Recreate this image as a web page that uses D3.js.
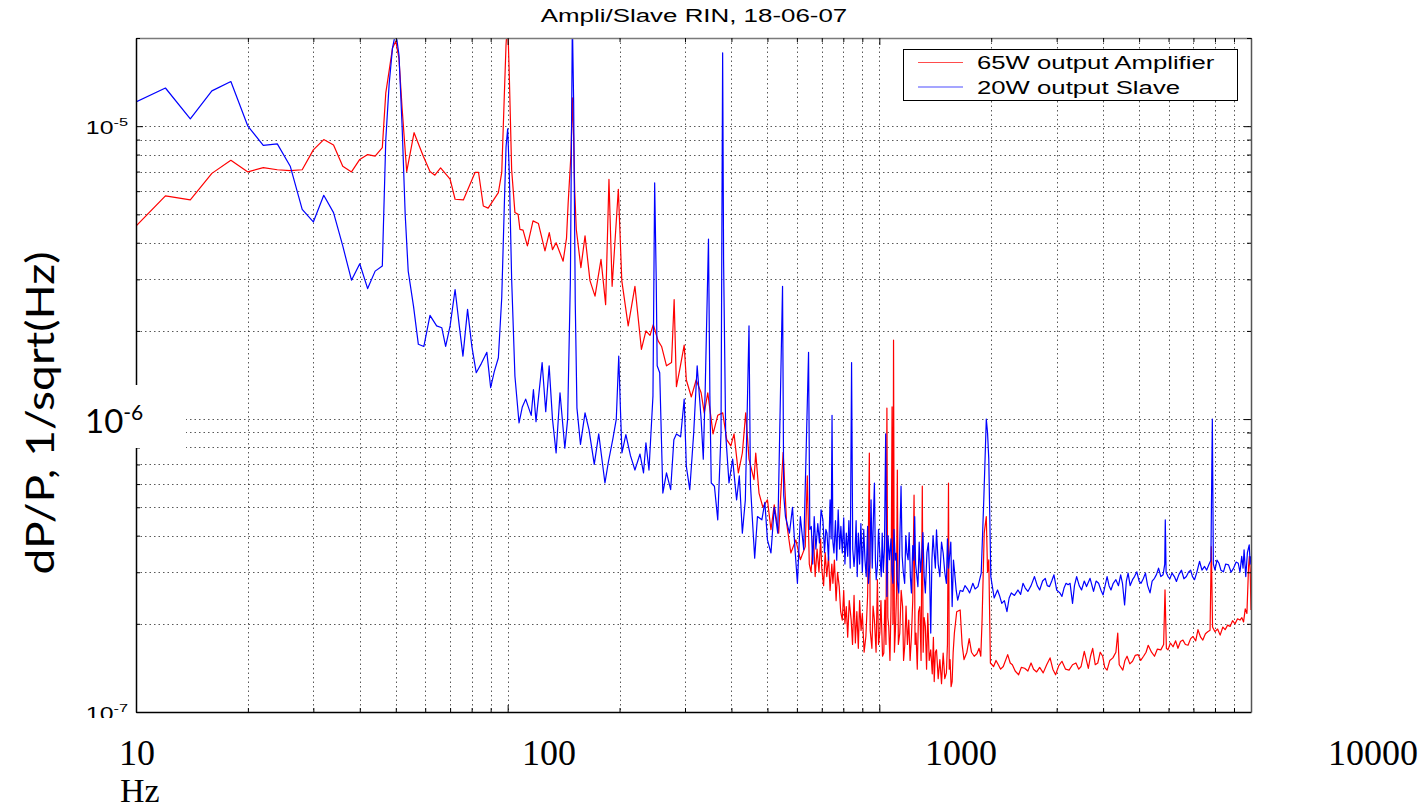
<!DOCTYPE html>
<html>
<head>
<meta charset="utf-8">
<script src="https://cdn.jsdelivr.net/npm/d3@7"></script>
<style>
  body { margin: 0; background: #fff; }
  svg { display: block; }
</style>
</head>
<body>
<svg id="chart" width="1423" height="812"></svg>
<script>
// RIN spectra: [frequency Hz, dP/P in 1/sqrt(Hz)]
const amplifierRIN = [
  [10,4.56e-6],[12,5.78e-6],[14,5.6e-6],[16,6.9e-6],[18,7.65e-6],[20,6.98e-6],[22,7.22e-6],[24,7.1e-6],
  [26,7.05e-6],[28,7.1e-6],[30,8.3e-6],[32,9.0e-6],[34,8.63e-6],[36,7.3e-6],[38,6.98e-6],[40,7.7e-6],
  [42,8.0e-6],[44,7.9e-6],[46,8.45e-6],[47,1.3e-5],[48,1.55e-5],[49,1.85e-5],[50,1.95e-5],[51,1.7e-5],
  [52,1.15e-5],[53.5,7.0e-6],[56,9.5e-6],[59.3,7.9e-6],[61.8,7.0e-6],[63.7,6.8e-6],[66,7.2e-6],[70,6.59e-6],
  [72.2,5.63e-6],[76,5.6e-6],[81.7,6.95e-6],[83.5,6.95e-6],[86,5.34e-6],[88.6,5.25e-6],[94.4,5.93e-6],
  [96.4,6.95e-6],[98,1.3e-5],[99,1.9e-5],[100,2.3e-5],[101,1.5e-5],[102.5,7.1e-6],[104.6,5.07e-6],
  [106.7,5.0e-6],[107.9,4.44e-6],[110,4.42e-6],[113,3.9e-6],[117,4.75e-6],[121,4.65e-6],[126,3.75e-6],
  [129.4,4.33e-6],[132,3.79e-6],[135,4.0e-6],[141,3.46e-6],[144,4.15e-6],[145.5,5.5e-6],[148,8e-6],
  [149.3,1.25e-5],[150.5,9e-6],[151.5,6e-6],[153,4.44e-6],[157.4,3.29e-6],[161.5,4.22e-6],[166.5,2.97e-6],
  [171.8,2.63e-6],[178.3,3.51e-6],[183.5,2.46e-6],[187.3,6.59e-6],[191,2.84e-6],[198.5,6.09e-6],
  [202.8,2.97e-6],[211,2.08e-6],[220,2.84e-6],[229,1.73e-6],[235.5,2.0e-6],[241.5,1.93e-6],[246.5,2.1e-6],
  [254,1.85e-6],[259.5,1.77e-6],[267.5,1.52e-6],[276,1.56e-6],[280.5,2.56e-6],[284.5,1.29e-6],
  [290.5,1.48e-6],[298.5,1.79e-6],[302.5,1.36e-6],[312,1.19e-6],[321.5,1.36e-6],[331.5,1.23e-6],
  [338,1.05e-6],[345.5,1.23e-6],[357,8.9e-7],[367.5,1.03e-6],[379,1.05e-6],[388.5,8.51e-7],[398.5,8.1e-7],
  [406.5,8.9e-7],[417.5,6.55e-7],[428,7.66e-7],[437,1.05e-6],[446,7.3e-7],[460,6.21e-7],[465,7.66e-7],
  [474.5,5.59e-7],[486,5.0e-7],[500,5.3e-7],[511,4.19e-7],[521.5,5.1e-7],[536,4.08e-7],[551,7.7e-7],
  [563,4.42e-7],[578,3.49e-7],[596,3.87e-7],[613,3.31e-7],[632,3.67e-7],[640,6.4e-7],[648,3.2e-7],
  [655,3.0e-7],[665,4.0e-7],[672,2.9e-7],[680,3.6e-7],[688,3.0e-7],[695,3.9e-7],[700,3.1e-7],[708,2.7e-7],
  [715,3.5e-7],[722,2.9e-7],[730,3.4e-7],[737,2.6e-7],[745,3.2e-7],[750,2.75e-7],[757,3.3e-7],[765,2.4e-7],
  [772,3.0e-7],[780,2.68e-7],[787,2.2e-7],[795,2.06e-7],[802,2.6e-7],[808,2.0e-7],[815,2.29e-7],
  [822,1.8e-7],[830,2.4e-7],[840,2.06e-7],[847,1.7e-7],[855,2.5e-7],[862,1.72e-7],[870,2.2e-7],
  [878,1.65e-7],[885,2.4e-7],[893,1.9e-7],[900,2.17e-7],[910,1.6e-7],[920,1.81e-7],[930,2.5e-7],
  [940,7.66e-7],[945,1.9e-7],[955,1.65e-7],[962,2.3e-7],[970,2.06e-7],[980,1.6e-7],[988,2.83e-7],
  [995,1.7e-7],[1003,1.86e-7],[1010,2.4e-7],[1020,1.55e-7],[1028,1.59e-7],[1035,2.41e-7],[1042,1.7e-7],
  [1048,1.09e-6],[1054,2.1e-7],[1060,1.96e-7],[1068,1.5e-7],[1075,2.3e-7],[1082,1.1e-6],[1088,2.0e-7],
  [1092,1.86e-6],[1098,1.6e-7],[1105,1.91e-7],[1112,2.5e-7],[1118,6.7e-7],[1125,1.7e-7],[1135,1.86e-7],
  [1145,2.6e-7],[1155,2.29e-7],[1162,1.5e-7],[1170,1.67e-7],[1180,2.3e-7],[1190,1.7e-7],[1200,2.06e-7],
  [1210,1.5e-7],[1220,1.81e-7],[1230,2.4e-7],[1240,5.5e-7],[1248,1.7e-7],[1255,1.86e-7],[1265,1.4e-7],
  [1275,2.2e-7],[1285,2.29e-7],[1295,1.5e-7],[1305,5.9e-7],[1312,1.6e-7],[1320,2.1e-7],[1330,1.96e-7],
  [1340,1.4e-7],[1350,2.17e-7],[1362,1.5e-7],[1375,1.63e-7],[1388,1.35e-7],[1398,1.8e-7],[1405,1.27e-7],
  [1415,1.6e-7],[1425,1.63e-7],[1440,1.3e-7],[1455,1.51e-7],[1470,1.25e-7],[1485,1.59e-7],[1500,1.3e-7],
  [1515,1.36e-7],[1525,1.7e-7],[1535,6.05e-7],[1542,1.4e-7],[1550,1.51e-7],[1560,1.22e-7],[1570,1.27e-7],
  [1580,1.6e-7],[1592,1.86e-7],[1615,2.2e-7],[1650,2.23e-7],[1670,1.7e-7],[1690,1.51e-7],[1720,1.6e-7],
  [1745,1.78e-7],[1770,1.6e-7],[1800,1.55e-7],[1830,1.58e-7],[1855,1.65e-7],[1875,1.55e-7],[1890,2.06e-7],
  [1915,4.08e-7],[1940,4.65e-7],[1955,3.0e-7],[1970,3.31e-7],[1990,1.47e-7],[2030,1.43e-7],[2060,1.5e-7],
  [2090,1.45e-7],[2120,1.4e-7],[2155,1.43e-7],[2215,1.57e-7],[2250,1.47e-7],[2280,1.45e-7],[2320,1.38e-7],
  [2370,1.34e-7],[2410,1.42e-7],[2460,1.41e-7],[2510,1.38e-7],[2560,1.47e-7],[2600,1.4e-7],[2650,1.37e-7],
  [2700,1.42e-7],[2760,1.36e-7],[2820,1.45e-7],[2880,1.53e-7],[2930,1.4e-7],[2980,1.34e-7],[3040,1.44e-7],
  [3100,1.49e-7],[3170,1.4e-7],[3240,1.39e-7],[3310,1.45e-7],[3380,1.47e-7],[3440,1.4e-7],[3490,1.43e-7],
  [3560,1.61e-7],[3650,1.41e-7],[3700,1.55e-7],[3750,1.65e-7],[3810,1.45e-7],[3870,1.47e-7],[3930,1.6e-7],
  [3990,1.55e-7],[4040,1.42e-7],[4100,1.39e-7],[4170,1.5e-7],[4250,1.53e-7],[4330,1.6e-7],[4380,1.86e-7],
  [4420,1.45e-7],[4520,1.39e-7],[4580,1.5e-7],[4640,1.55e-7],[4720,1.46e-7],[4800,1.49e-7],[4880,1.56e-7],
  [4970,1.57e-7],[5050,1.5e-7],[5140,1.55e-7],[5220,1.6e-7],[5290,1.69e-7],[5400,1.6e-7],[5500,1.55e-7],
  [5600,1.64e-7],[5720,1.63e-7],[5820,1.7e-7],[5870,2.61e-7],[5920,1.65e-7],[5980,1.63e-7],[6070,1.72e-7],
  [6170,1.67e-7],[6270,1.75e-7],[6360,1.65e-7],[6460,1.74e-7],[6560,1.76e-7],[6660,1.7e-7],[6770,1.69e-7],
  [6880,1.78e-7],[6980,1.81e-7],[7100,1.75e-7],[7200,1.91e-7],[7320,1.8e-7],[7420,1.76e-7],[7540,1.85e-7],
  [7650,1.88e-7],[7760,1.9e-7],[7820,3.67e-7],[7880,1.95e-7],[8000,1.88e-7],[8130,1.92e-7],[8260,1.83e-7],
  [8400,1.95e-7],[8520,1.91e-7],[8650,1.98e-7],[8790,1.96e-7],[8920,2.05e-7],[9060,2.0e-7],[9200,2.08e-7],
  [9340,2.06e-7],[9450,2.1e-7],[9550,2.03e-7],[9650,2.25e-7],[9750,2.17e-7],[9850,3.14e-7],[9900,3.4e-7],
  [9950,3.05e-7],[10000,2.23e-7]
];

const slaveRIN = [
  [10,1.21e-5],[12,1.35e-5],[14,1.06e-5],[16,1.32e-5],[18,1.42e-5],[20,1.0e-5],[22,8.6e-6],[24,8.7e-6],
  [26,7.3e-6],[28,5.2e-6],[30,4.71e-6],[32,5.81e-6],[34,5.07e-6],[36,3.9e-6],[38,2.98e-6],[40,3.39e-6],
  [42,2.79e-6],[44,3.2e-6],[46,3.33e-6],[47,9e-6],[48,1.4e-5],[49,1.85e-5],[50,2.1e-5],[51,1.75e-5],
  [52,1.0e-5],[53,5e-6],[54,3.2e-6],[55.8,2.43e-6],[57.5,1.8e-6],[59.5,1.77e-6],[61.8,2.26e-6],
  [64.4,2.08e-6],[66.5,2.05e-6],[68.1,1.77e-6],[70,2.08e-6],[72.2,2.77e-6],[74.1,2.08e-6],[75.8,1.64e-6],
  [78,2.37e-6],[80.1,1.77e-6],[82.3,1.44e-6],[85,1.55e-6],[87.9,1.69e-6],[90,1.28e-6],[92,1.45e-6],
  [94.4,1.62e-6],[96.4,2.6e-6],[98,5.5e-6],[99,8.5e-6],[100,9.8e-6],[101,7e-6],[102.5,3e-6],[104.6,1.4e-6],
  [107.3,9.7e-7],[109.5,1.1e-6],[111.8,1.17e-6],[115.7,1.03e-6],[117.3,1.26e-6],[119.2,9.8e-7],
  [123.8,1.56e-6],[126.6,1.06e-6],[129.3,1.52e-6],[132,1.0e-6],[135,7.66e-7],[138.3,1.23e-6],
  [142.5,7.95e-7],[145,1.0e-6],[147.5,3e-6],[149.3,2.3e-5],[150.5,1.2e-5],[152,2.5e-6],[153.6,1.09e-6],
  [157,8.2e-7],[161.5,1.05e-6],[165.5,9.2e-7],[171,7e-7],[175.8,8.9e-7],[182.7,6.05e-7],[186.5,7.1e-7],
  [192,8.6e-7],[196,1.0e-6],[199,1.64e-6],[201,1.1e-6],[203,7.66e-7],[208,8.85e-7],[214,7.5e-7],
  [220,6.7e-7],[227,7.6e-7],[232,6.55e-7],[235.5,8.3e-7],[240,6.7e-7],[246,1.2e-6],[248.6,6.4e-6],
  [251,3e-6],[252.5,1.52e-6],[256.5,1.44e-6],[261.5,5.59e-7],[267.5,6.55e-7],[274.5,5.74e-7],[280,8.5e-7],
  [284.5,8.9e-7],[292,8.7e-7],[298.5,1.17e-6],[302.5,6.9e-7],[309,5.74e-7],[316.5,8.9e-7],[323.5,1.52e-6],
  [331.5,1.0e-6],[336,7.3e-7],[340,1.26e-6],[347,4.12e-6],[350,1.2e-6],[353,6.05e-7],[360,5.9e-7],
  [367.5,4.53e-7],[375,9e-7],[378.8,1.78e-5],[381,3.5e-6],[386,8.9e-7],[394,6.05e-7],[403,7.3e-7],
  [413,5.3e-7],[420,6.4e-7],[428,4.08e-7],[436,5.3e-7],[446,2.08e-6],[450,6e-7],[455,4.65e-7],
  [462,3.35e-7],[470,4.65e-7],[483,4.53e-7],[492,5.2e-7],[500,3.87e-7],[511,3.49e-7],[521.5,5.0e-7],
  [533,4.08e-7],[549,2.84e-6],[553,5.5e-7],[559,4.65e-7],[573,4.08e-7],[584,5.0e-7],[593,3.6e-7],
  [602,2.75e-7],[613,4.65e-7],[626,3.58e-7],[645,1.69e-6],[650,4.2e-7],[656,4.3e-7],[662,3.2e-7],
  [668,4.65e-7],[675,3.6e-7],[683,4.4e-7],[690,3.78e-7],[697,4.9e-7],[705,4.53e-7],[712,3.5e-7],
  [718,4.2e-7],[723,4.08e-7],[730,3.3e-7],[737,5.3e-7],[742,3.9e-7],[746,1.03e-6],[750,3.8e-7],
  [755,3.49e-7],[762,4.5e-7],[768,3.3e-7],[775,4.9e-7],[782,3.6e-7],[788,4.3e-7],[795,3.49e-7],
  [802,4.6e-7],[808,3.2e-7],[815,4.08e-7],[822,3.4e-7],[828,4.5e-7],[835,3.1e-7],[842,1.56e-6],
  [848,3.6e-7],[855,3.14e-7],[860,3.49e-7],[866,4.5e-7],[872,2.9e-7],[878,4.08e-7],[885,3.2e-7],
  [892,4.4e-7],[900,3.0e-7],[908,4.2e-7],[915,3.3e-7],[922,2.9e-7],[930,4.3e-7],[935,2.75e-7],
  [943,3.22e-7],[950,5.3e-7],[957,3.1e-7],[963,4.4e-7],[970,6.05e-7],[976,3.3e-7],[981,2.83e-7],
  [988,3.14e-7],[995,4.2e-7],[1005,3.31e-7],[1012,2.9e-7],[1018,4.08e-7],[1025,3.0e-7],[1032,3.6e-7],
  [1040,8.9e-7],[1048,2.48e-7],[1055,4.0e-7],[1065,3.31e-7],[1075,3.9e-7],[1082,3.0e-7],[1088,2.75e-7],
  [1095,4.2e-7],[1103,3.3e-7],[1110,3.49e-7],[1118,2.8e-7],[1128,2.55e-7],[1136,4.0e-7],[1144,5.9e-7],
  [1152,3.4e-7],[1160,3.0e-7],[1170,2.75e-7],[1178,4.0e-7],[1186,3.5e-7],[1195,3.31e-7],[1203,4.1e-7],
  [1212,2.9e-7],[1220,2.55e-7],[1230,3.7e-7],[1238,3.3e-7],[1245,4.65e-7],[1252,3.2e-7],[1262,2.9e-7],
  [1270,2.68e-7],[1280,3.8e-7],[1290,3.0e-7],[1300,3.4e-7],[1310,4.1e-7],[1320,2.9e-7],[1330,2.55e-7],
  [1343,3.5e-7],[1355,3.78e-7],[1365,3.0e-7],[1375,1.86e-7],[1385,3.3e-7],[1395,4.0e-7],[1405,3.49e-7],
  [1415,3.1e-7],[1425,4.19e-7],[1440,3.2e-7],[1455,2.9e-7],[1470,3.8e-7],[1485,3.49e-7],[1500,3.0e-7],
  [1515,2.75e-7],[1525,3.9e-7],[1535,3.1e-7],[1545,3.4e-7],[1557,3.8e-7],[1570,2.29e-7],[1583,3.3e-7],
  [1595,2.98e-7],[1610,2.6e-7],[1625,2.41e-7],[1650,2.6e-7],[1677,2.58e-7],[1700,2.7e-7],[1730,2.62e-7],
  [1750,2.55e-7],[1785,2.75e-7],[1810,2.63e-7],[1842,2.68e-7],[1880,2.98e-7],[1910,5.3e-7],[1940,1.0e-6],
  [1955,9e-7],[1970,7.3e-7],[1995,2.9e-7],[2037,2.45e-7],[2080,2.61e-7],[2105,2.5e-7],[2135,2.35e-7],
  [2170,2.4e-7],[2205,2.2e-7],[2235,2.45e-7],[2265,2.55e-7],[2310,2.5e-7],[2360,2.61e-7],[2400,2.52e-7],
  [2435,2.75e-7],[2470,2.65e-7],[2510,2.58e-7],[2560,2.7e-7],[2615,2.9e-7],[2660,2.7e-7],[2700,2.61e-7],
  [2750,2.8e-7],[2795,2.86e-7],[2830,2.7e-7],[2870,2.68e-7],[2910,2.8e-7],[2950,2.94e-7],[3000,2.61e-7],
  [3060,2.55e-7],[3100,2.48e-7],[3140,2.65e-7],[3180,2.75e-7],[3220,2.72e-7],[3260,2.75e-7],[3310,2.35e-7],
  [3350,2.7e-7],[3395,2.9e-7],[3450,2.7e-7],[3500,2.61e-7],[3560,2.8e-7],[3610,2.68e-7],[3690,2.86e-7],
  [3770,2.58e-7],[3830,2.8e-7],[3890,2.75e-7],[3950,2.6e-7],[4000,2.51e-7],[4050,2.7e-7],[4100,2.9e-7],
  [4150,2.7e-7],[4200,2.61e-7],[4260,2.75e-7],[4330,2.83e-7],[4400,2.7e-7],[4460,2.94e-7],[4510,2.75e-7],
  [4570,2.32e-7],[4620,2.8e-7],[4670,2.98e-7],[4730,2.7e-7],[4800,2.83e-7],[4860,2.9e-7],[4930,3.01e-7],
  [5000,2.8e-7],[5060,2.75e-7],[5130,2.85e-7],[5200,2.98e-7],[5270,2.7e-7],[5350,2.55e-7],[5420,2.8e-7],
  [5500,2.86e-7],[5570,2.95e-7],[5640,3.1e-7],[5720,2.9e-7],[5800,2.94e-7],[5860,3.2e-7],[5880,4.53e-7],
  [5910,3.0e-7],[5980,2.9e-7],[6050,2.85e-7],[6130,2.98e-7],[6220,2.9e-7],[6300,2.79e-7],[6400,2.95e-7],
  [6500,3.05e-7],[6600,2.85e-7],[6700,2.9e-7],[6790,3.0e-7],[6880,3.05e-7],[6960,2.9e-7],[7050,2.83e-7],
  [7150,3.0e-7],[7270,3.27e-7],[7380,3.05e-7],[7500,3.14e-7],[7600,3.05e-7],[7700,3.18e-7],[7800,3.3e-7],
  [7870,1.0e-6],[7920,3.2e-7],[8000,3.05e-7],[8100,3.3e-7],[8200,3.22e-7],[8300,3.05e-7],[8430,3.01e-7],
  [8550,3.2e-7],[8700,3.18e-7],[8840,3.0e-7],[8980,3.1e-7],[9120,3.25e-7],[9240,3.22e-7],[9340,3.0e-7],
  [9440,3.4e-7],[9520,3.1e-7],[9580,3.58e-7],[9680,2.9e-7],[9780,3.5e-7],[9890,3.72e-7],[9950,3.2e-7],
  [10000,3.4e-7]
];

const seriesNames = ["65W output Amplifier", "20W output Slave"];
const seriesColors = ["#ff0000", "#0000ff"];
const freqDomain = [10, 10000];
const rinDomain = [1e-7, 2e-5];
const freqLabels = [10, 100, 1000, 10000];
const smallRinLabels = [[1e-5, "-5"], [1e-7, "-7"]];

const svg = d3.select("#chart");
const W = 1423, H = 812;
const plotL = 136, plotR = 1251, plotT = 38, plotB = 712;

const x = d3.scaleLog().domain(freqDomain).range([plotL, plotR]);
const y = d3.scaleLog().domain(rinDomain).range([plotB, plotT]);
// the big frequency labels under the plot sit on their own, wider spacing
const xLabel = d3.scaleLog().domain(freqDomain).range([137, 1373]);

svg.append("rect").attr("width", W).attr("height", H).attr("fill", "#fff");

const isDecade = v => Math.abs(Math.log10(v) - Math.round(Math.log10(v))) < 1e-6;

// grid
const grid = svg.append("g").attr("stroke", "#000").attr("stroke-opacity", 0.65)
  .attr("stroke-width", 1).attr("stroke-dasharray", "1.5,3");

grid.selectAll(".vg").data(x.ticks().filter(d => d > 10 && d < 10000))
  .enter().append("line")
  .attr("x1", d => Math.round(x(d)) + 0.5).attr("x2", d => Math.round(x(d)) + 0.5)
  .attr("y1", plotT).attr("y2", plotB);

grid.selectAll(".hg").data(y.ticks().filter(d => d > 1e-7 && d < 2e-5))
  .enter().append("line")
  .attr("y1", d => Math.round(y(d)) + 0.5).attr("y2", d => Math.round(y(d)) + 0.5)
  .attr("x1", plotL).attr("x2", plotR);

// traces
svg.append("clipPath").attr("id", "plotClip")
  .append("rect").attr("x", plotL).attr("y", plotT).attr("width", plotR - plotL).attr("height", plotB - plotT);

const line = d3.line().x(d => x(d[0])).y(d => y(d[1]));

svg.append("g").attr("clip-path", "url(#plotClip)")
  .selectAll("path")
  .data([amplifierRIN, slaveRIN])
  .enter().append("path")
  .attr("d", line)
  .attr("fill", "none")
  .attr("stroke", (d, i) => seriesColors[i])
  .attr("stroke-width", 1.2)
  .attr("stroke-linejoin", "round");

// axes, matlab style with inward ticks
const xTicks = x.ticks();
const yTicks = y.ticks();

function styleAxis(g, color, dir) {
  g.select(".domain").attr("stroke", color).attr("stroke-width", 1.5);
  g.selectAll(".tick line").attr("stroke", "#000")
    .attr(dir.attr, d => dir.sign * (isDecade(d) ? 7 : 4));
  g.selectAll(".tick text").remove();
}

svg.append("g").attr("transform", `translate(0,${plotB})`)
  .call(d3.axisBottom(x).tickValues(xTicks).tickSizeOuter(0).tickFormat(""))
  .call(g => styleAxis(g, "#000", { attr: "y2", sign: -1 }));

svg.append("g").attr("transform", `translate(0,${plotT})`)
  .call(d3.axisTop(x).tickValues(xTicks).tickSizeOuter(0).tickFormat(""))
  .call(g => styleAxis(g, "#7a7a7a", { attr: "y2", sign: 1 }));

svg.append("g").attr("transform", `translate(${plotL},0)`)
  .call(d3.axisLeft(y).tickValues(yTicks).tickSizeOuter(0).tickFormat(""))
  .call(g => styleAxis(g, "#000", { attr: "x2", sign: 1 }));

svg.append("g").attr("transform", `translate(${plotR},0)`)
  .call(d3.axisRight(y).tickValues(yTicks).tickSizeOuter(0).tickFormat(""))
  .call(g => styleAxis(g, "#555", { attr: "x2", sign: -1 }));

// small matlab tick labels (stretched like the exported figure)
const stretch = 1.42;
smallRinLabels.forEach(([v, exp]) => {
  const t = svg.append("text")
    .attr("transform", `translate(128,${y(v) + 8}) scale(${stretch},1)`)
    .attr("text-anchor", "end")
    .attr("font-family", "Liberation Sans, Arial, sans-serif")
    .attr("font-size", 17.5)
    .attr("fill", "#000");
  t.append("tspan").text("10");
  t.append("tspan").attr("font-size", 11.5).attr("dy", -8).text(exp);
});

// title
svg.append("text")
  .attr("transform", `translate(694,22) scale(1.48,1)`)
  .attr("text-anchor", "middle")
  .attr("font-family", "Liberation Sans, Arial, sans-serif")
  .attr("font-size", 17.5)
  .attr("fill", "#000")
  .text("Ampli/Slave RIN, 18-06-07");

// legend
const legend = svg.append("g");
legend.append("rect").attr("x", 903.5).attr("y", 49.5).attr("width", 334).attr("height", 51)
  .attr("fill", "#fff").attr("stroke", "#000").attr("stroke-width", 1);
seriesNames.forEach((name, i) => {
  const ly = 62.5 + i * 24.5;
  legend.append("line").attr("x1", 918).attr("x2", 963).attr("y1", ly).attr("y2", ly)
    .attr("stroke", seriesColors[i]).attr("stroke-width", 1.2).attr("stroke-opacity", 0.7);
  legend.append("text")
    .attr("transform", `translate(977,${ly + 6.5}) scale(${stretch + 0.05},1)`)
    .attr("font-family", "Liberation Sans, Arial, sans-serif")
    .attr("font-size", 17.5)
    .attr("fill", "#000")
    .text(name);
});

// pasted-on labels: white patch behind the big 10^-6, bottom strip, axis titles
svg.append("rect").attr("x", 70).attr("y", 385).attr("width", 116).attr("height", 63).attr("fill", "#fff");
svg.append("rect").attr("x", 0).attr("y", 718).attr("width", W).attr("height", H - 718).attr("fill", "#fff");

const big = svg.append("text")
  .attr("x", 85).attr("y", y(1e-6) + 14)
  .attr("font-family", "Lato, Carlito, sans-serif")
  .attr("font-size", 33)
  .attr("fill", "#000");
big.append("tspan").text("10");
big.append("tspan").attr("font-size", 21).attr("dy", -13).text("-6");

svg.append("text")
  .attr("transform", `translate(54,413) rotate(-90)`)
  .attr("text-anchor", "middle")
  .attr("font-family", "Lato, Carlito, sans-serif")
  .attr("font-size", 38)
  .attr("textLength", 323)
  .attr("lengthAdjust", "spacingAndGlyphs")
  .attr("fill", "#000")
  .text("dP/P, 1/sqrt(Hz)");

svg.selectAll(".flabel").data(freqLabels)
  .enter().append("text")
  .attr("x", d => xLabel(d)).attr("y", 765)
  .attr("text-anchor", "middle")
  .attr("font-family", "Liberation Serif, Times New Roman, serif")
  .attr("font-size", 36)
  .attr("fill", "#000")
  .text(d => d);

svg.append("text")
  .attr("x", 120).attr("y", 802)
  .attr("font-family", "Liberation Serif, Times New Roman, serif")
  .attr("font-size", 34)
  .attr("fill", "#000")
  .text("Hz");
</script>
</body>
</html>
